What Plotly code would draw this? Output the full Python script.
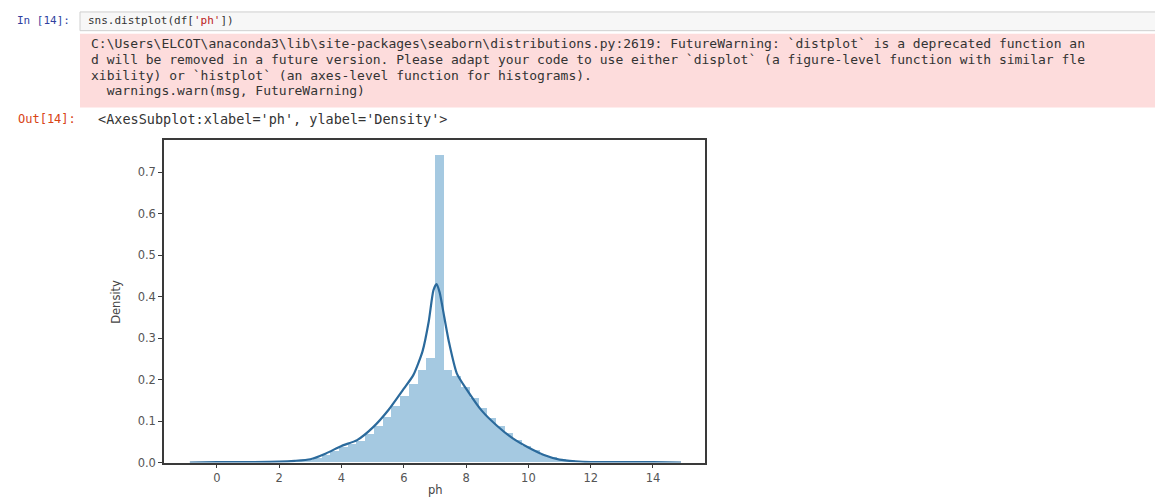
import plotly.graph_objects as go

W, H = 1163, 498

# ---- data ----
bin_left = [0.00, 0.28, 0.56, 0.84, 1.12, 1.40, 1.68, 1.96, 2.24, 2.52,
            2.80, 3.08, 3.36, 3.64, 3.92, 4.20, 4.48, 4.76, 5.04, 5.32,
            5.60, 5.88, 6.16, 6.44, 6.72, 7.00, 7.28, 7.56, 7.84, 8.12,
            8.40, 8.68, 8.96, 9.24, 9.52, 9.80, 10.08, 10.36, 10.64, 10.92,
            11.20, 11.48, 11.76, 12.04, 12.32, 12.60, 12.88, 13.16, 13.44, 13.72]
bin_width = 0.28
hist_density = [0.001, 0.000, 0.001, 0.000, 0.001, 0.001, 0.001, 0.002, 0.002, 0.004,
                0.006, 0.011, 0.018, 0.028, 0.038, 0.045, 0.052, 0.068, 0.088, 0.110,
                0.135, 0.160, 0.188, 0.222, 0.252, 0.740, 0.223, 0.209, 0.182, 0.155,
                0.130, 0.108, 0.088, 0.070, 0.054, 0.040, 0.029, 0.019, 0.012, 0.008,
                0.005, 0.003, 0.002, 0.001, 0.001, 0.001, 0.000, 0.001, 0.000, 0.001]

kde_x = [-0.87, 0.0, 1.0, 2.0, 2.5, 3.0, 3.5, 4.0, 4.5, 5.0, 5.5, 6.0, 6.3, 6.6, 6.8,
         6.95, 7.05, 7.15, 7.3, 7.45, 7.7, 8.0, 8.5, 9.0, 9.5, 10.0, 10.5, 11.0, 11.5,
         12.0, 13.0, 14.0, 14.9]
kde_y = [0.000, 0.001, 0.001, 0.002, 0.004, 0.008, 0.022, 0.040, 0.054, 0.084, 0.126,
         0.178, 0.210, 0.268, 0.340, 0.415, 0.430, 0.410, 0.350, 0.290, 0.215, 0.178,
         0.125, 0.088, 0.058, 0.036, 0.018, 0.007, 0.003, 0.001, 0.001, 0.001, 0.000]

x_ticks = [0, 2, 4, 6, 8, 10, 12, 14]
y_ticks = [0.0, 0.1, 0.2, 0.3, 0.4, 0.5, 0.6, 0.7]

input_code = "sns.distplot(df['ph'])"
stderr_lines = [
    "C:\\Users\\ELCOT\\anaconda3\\lib\\site-packages\\seaborn\\distributions.py:2619: FutureWarning: `distplot` is a deprecated function an",
    "d will be removed in a future version. Please adapt your code to use either `displot` (a figure-level function with similar fle",
    "xibility) or `histplot` (an axes-level function for histograms).",
    "  warnings.warn(msg, FutureWarning)",
]
out_text = "<AxesSubplot:xlabel='ph', ylabel='Density'>"

# ---- helpers: pixel -> paper ----
def px(x):
    return x / W

def py(y):
    return 1 - y / H

mono = "DejaVu Sans Mono"

fig = go.Figure()
fig.add_trace(go.Bar(
    x=bin_left, y=hist_density, width=bin_width, offset=0,
    marker=dict(color="rgba(31,119,180,0.40)", line=dict(width=0)),
    showlegend=False, hoverinfo="skip"))
fig.add_trace(go.Scatter(
    x=kde_x, y=kde_y, mode="lines",
    line=dict(color="#2b6a9c", width=2.2, shape="spline", smoothing=0.6),
    showlegend=False, hoverinfo="skip"))

axis_col = "#3a3a3a"
tick_font = dict(family="DejaVu Sans", size=11.5, color="#555555")
fig.update_xaxes(
    domain=[px(156), px(697)], range=[-1.70, 15.67],
    tickvals=x_ticks, ticktext=[str(v) for v in x_ticks],
    ticks="outside", ticklen=4, tickcolor=axis_col, tickwidth=1,
    showline=True, linecolor=axis_col, linewidth=1.5, mirror=True,
    showgrid=False, zeroline=False, tickfont=tick_font,
)
fig.update_yaxes(
    domain=[py(461), py(134)], range=[0, 0.777],
    tickvals=y_ticks, ticktext=[f"{v:.1f}" for v in y_ticks],
    ticks="outside", ticklen=4, tickcolor=axis_col, tickwidth=1,
    showline=True, linecolor=axis_col, linewidth=1.5, mirror=True,
    showgrid=False, zeroline=False, tickfont=tick_font,
)

shapes = [
    # input cell
    dict(type="rect", xref="paper", yref="paper", x0=px(72), x1=px(1163), y0=py(23), y1=py(4),
         fillcolor="#f7f7f7", line=dict(color="#cfcfcf", width=1), layer="below"),
    # stderr area
    dict(type="rect", xref="paper", yref="paper", x0=px(72), x1=px(1163), y0=py(101), y1=py(26),
         fillcolor="#fddcdc", line=dict(width=0), layer="below"),
]

label_font = dict(family="DejaVu Sans", size=11.5, color="#444444")
annotations = [
    dict(text="In [14]:", x=px(64), y=py(13), xanchor="right", yanchor="middle",
         font=dict(family=mono, size=11, color="#303F9F")),
    dict(text=input_code.replace("'ph'", "<span style='color:#BA2121'>'ph'</span>"),
         x=px(78), y=py(13), xanchor="left", yanchor="middle",
         font=dict(family=mono, size=11, color="#333333")),
    dict(text="Out[14]:", x=px(70), y=py(113), xanchor="right", yanchor="middle",
         font=dict(family=mono, size=12, color="#D84315")),
    dict(text=out_text, x=px(88), y=py(113), xanchor="left", yanchor="middle",
         font=dict(family=mono, size=13.5, color="#333333")),
    dict(text="ph", x=px(427), y=py(489), xanchor="center", yanchor="middle", font=label_font),
    dict(text="Density", x=px(108), y=py(298), xanchor="center", yanchor="middle",
         textangle=-90, font=label_font),
]
stderr_y = [36, 52, 68, 84]
for yy, line in zip(stderr_y, stderr_lines):
    annotations.append(dict(text=line.replace(" ", "&nbsp;"), x=px(81), y=py(yy),
                            xanchor="left", yanchor="middle",
                            font=dict(family=mono, size=13, color="#333333")))
for a in annotations:
    a.update(xref="paper", yref="paper", showarrow=False)

fig.update_layout(
    width=W, height=H, margin=dict(l=0, r=0, t=0, b=0),
    paper_bgcolor="white", plot_bgcolor="white",
    bargap=0, shapes=shapes, annotations=annotations,
)

fig.write_html("out.html")
